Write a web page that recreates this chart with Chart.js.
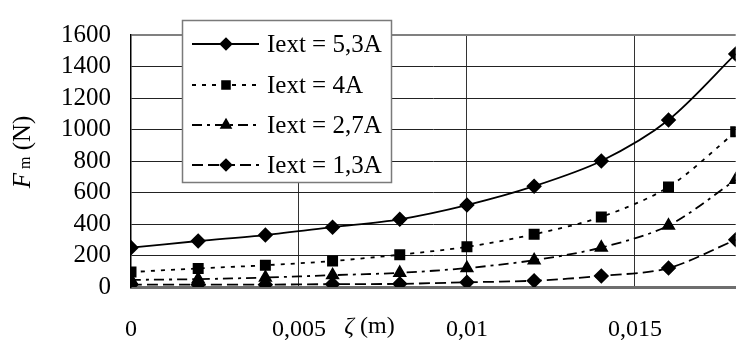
<!DOCTYPE html>
<html>
<head>
<meta charset="utf-8">
<script src="https://cdn.jsdelivr.net/npm/chart.js@4.4.0/dist/chart.umd.min.js"></script>
<style>
  html, body { margin: 0; padding: 0; background: #fff; }
  #wrap { width: 744px; height: 345px; }
</style>
</head>
<body>
<div id="wrap"><canvas id="forceChart" width="744" height="345"></canvas></div>
<script>
// displacement zeta (m)
const zeta = [0, 0.002, 0.004, 0.006, 0.008, 0.01, 0.012, 0.014, 0.016, 0.018];
// magnetic force Fm (N) for each excitation current
const iext53 = [250, 292, 330, 380, 430, 520, 640, 800, 1060, 1480];
const iext4 = [95, 118, 138, 165, 205, 255, 335, 445, 635, 985];
const iext27 = [45, 50, 60, 75, 90, 120, 170, 250, 390, 680];
const iext13 = [15, 15, 15, 18, 20, 30, 40, 70, 120, 300];
const seriesLabels = ["Iext = 5,3A", "Iext = 4A", "Iext = 2,7A", "Iext = 1,3A"];
const xTickValues = [0, 0.005, 0.01, 0.015];
const xTickLabels = ["0", "0,005", "0,01", "0,015"];

const serif = "'Liberation Serif', 'DejaVu Serif', serif";

function toPoints(values) {
    return values.map((v, i) => ({ x: zeta[i], y: v }));
}

const styles = [
    { dash: [], point: "rectRot", radius: 6.5 },
    { dash: [4, 6], point: "rect", radius: 6.5 },
    { dash: [10, 5, 3, 5], point: "triangle", radius: 6.5 },
    { dash: [11, 5], point: "rectRot", radius: 6.5 }
];

const seriesData = [iext53, iext4, iext27, iext13];

const datasets = seriesData.map((vals, i) => ({
    label: seriesLabels[i],
    data: toPoints(vals),
    borderColor: "#000",
    backgroundColor: "#000",
    borderWidth: 1.8,
    borderDash: styles[i].dash,
    pointStyle: styles[i].point,
    pointRadius: styles[i].radius,
    pointBackgroundColor: "#000",
    pointBorderColor: "#000",
    tension: 0.3,
    fill: false
}));

// legend box drawn inside the plot, like the original
const boxLegend = {
    id: "boxLegend",
    afterDatasetsDraw(chart) {
        const ctx = chart.ctx;
        ctx.save();
        ctx.fillStyle = "#fff";
        ctx.fillRect(182, 20, 209, 162);
        ctx.strokeStyle = "#7a7a7a";
        ctx.lineWidth = 1.5;
        ctx.strokeRect(182.5, 20.5, 209, 162);
        const rows = [44, 85, 125, 165];
        rows.forEach((y, i) => {
            ctx.strokeStyle = "#000";
            ctx.lineWidth = 1.8;
            ctx.setLineDash(styles[i].dash);
            ctx.beginPath();
            ctx.moveTo(192, y);
            ctx.lineTo(259, y);
            ctx.stroke();
            ctx.setLineDash([]);
            ctx.fillStyle = "#000";
            Chart.helpers.drawPoint(ctx, {
                pointStyle: styles[i].point,
                radius: styles[i].radius - 1,
                rotation: 0,
                borderWidth: 1
            }, 226, y);
            ctx.fillStyle = "#000";
            ctx.font = "25px " + serif;
            ctx.textAlign = "left";
            ctx.textBaseline = "middle";
            ctx.fillText(seriesLabels[i], 267, y + 1);
        });
        ctx.restore();
    }
};

// axis titles with italic symbols
const axisTitles = {
    id: "axisTitles",
    afterDraw(chart) {
        const ctx = chart.ctx;
        const xs = chart.scales.x;
        ctx.save();
        ctx.fillStyle = "#000";
        ctx.textBaseline = "middle";
        ctx.textAlign = "left";

        // x title sits on the tick label row
        const big = "24px " + serif;
        const ital = "italic 24px " + serif;
        ctx.font = ital;
        const wz = ctx.measureText("ζ").width;
        ctx.font = big;
        const wm = ctx.measureText(" (m)").width;
        let x0 = xs.getPixelForValue(0.0071) - (wz + wm) / 2;
        const yRow = 327;
        ctx.font = ital;
        ctx.fillText("ζ", x0, yRow);
        ctx.font = big;
        ctx.fillText(" (m)", x0 + wz, yRow);

        // y title, rotated
        ctx.translate(23, 152);
        ctx.rotate(-Math.PI / 2);
        ctx.font = "italic 25px " + serif;
        const wF = ctx.measureText("F").width;
        ctx.font = "16px " + serif;
        const wSub = ctx.measureText(" m").width;
        ctx.font = "25px " + serif;
        const wN = ctx.measureText(" (N)").width;
        let px = -(wF + wSub + wN) / 2;
        ctx.font = "italic 25px " + serif;
        ctx.fillText("F", px, 0);
        px += wF;
        ctx.font = "16px " + serif;
        ctx.fillText(" m", px, 3);
        px += wSub;
        ctx.font = "25px " + serif;
        ctx.fillText(" (N)", px, 0);
        ctx.restore();
    }
};

const ctx = document.getElementById("forceChart").getContext("2d");
const forceChart = new Chart(ctx, {
    type: "line",
    data: { datasets: datasets },
    options: {
        responsive: false,
        animation: false,
        layout: { padding: { top: 16, right: 0, left: 0, bottom: 0 } },
        plugins: {
            legend: { display: false },
            tooltip: { enabled: false }
        },
        scales: {
            x: {
                type: "linear",
                min: 0,
                max: 0.018,
                afterBuildTicks: (scale) => {
                    scale.ticks = xTickValues.map((v) => ({ value: v }));
                },
                afterFit: (scale) => { scale.height = 58; },
                ticks: {
                    color: "#000",
                    font: { family: serif, size: 24 },
                    padding: 28,
                    maxRotation: 0,
                    autoSkip: false,
                    callback: (v) => {
                        const k = xTickValues.indexOf(v);
                        return k >= 0 ? xTickLabels[k] : "";
                    }
                },
                grid: {
                    color: (c) => (c.tick && c.tick.value === 0 ? "rgba(0,0,0,0)" : "#333"),
                    lineWidth: 1,
                    drawTicks: false
                },
                border: { display: true, color: "#6e6e6e", width: 3 }
            },
            y: {
                min: 0,
                max: 1600,
                afterFit: (scale) => { scale.width = 131; },
                ticks: {
                    stepSize: 200,
                    autoSkip: false,
                    color: "#000",
                    font: { family: serif, size: 25 },
                    padding: 20,
                    callback: (v) => String(v)
                },
                grid: {
                    color: (c) => (c.tick && c.tick.value === 1600 ? "#808080" : "#222"),
                    lineWidth: (c) => (c.tick && c.tick.value === 1600 ? 2 : 1),
                    drawTicks: false
                },
                border: { display: true, color: "#000", width: 1.5 }
            }
        }
    },
    plugins: [boxLegend, axisTitles]
});
</script>
</body>
</html>
